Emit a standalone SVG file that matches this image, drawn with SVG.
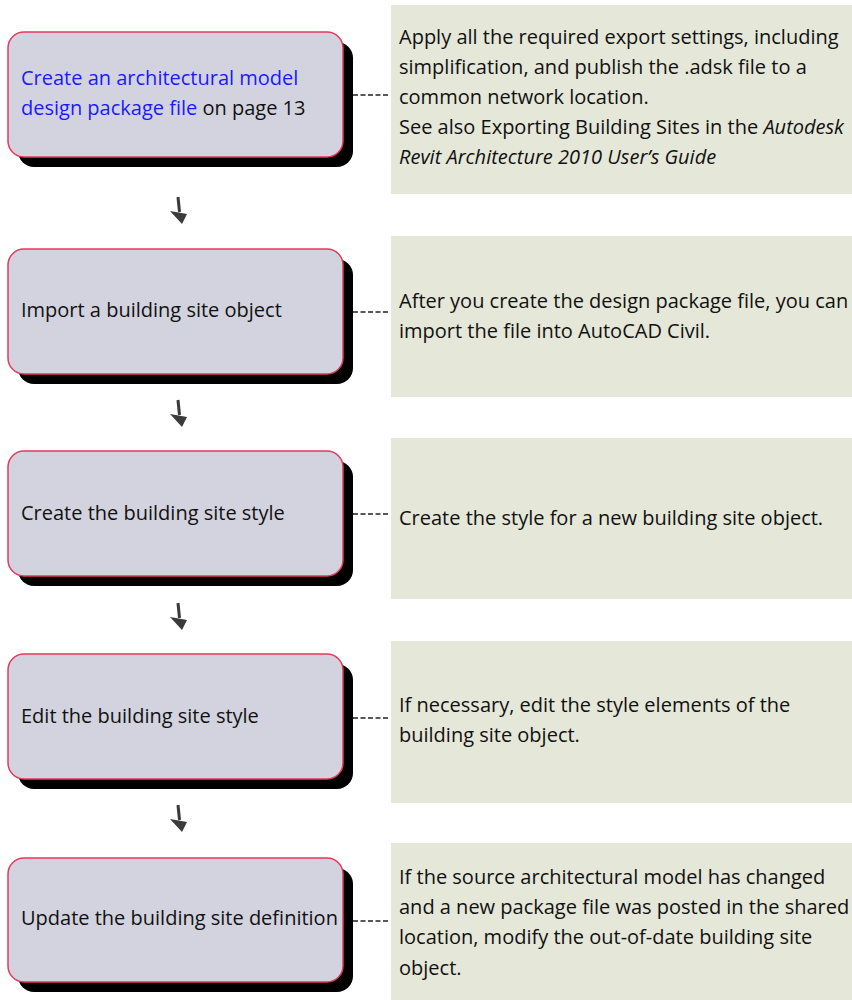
<svg xmlns="http://www.w3.org/2000/svg" width="852" height="1000" viewBox="0 0 852 1000">
<defs>
<style>
.note{fill:#e5e7d9;}
.shadow{fill:#000;}
.box{fill:#d3d3df;stroke:#e8375a;stroke-width:1.5;}
.t{font-family:"Open Sans","Noto Sans",sans-serif;font-size:20px;fill:#111;}
.link{fill:#1a1aff;}
.it{font-style:italic;}
.conn{stroke:#222;stroke-width:1.5;stroke-dasharray:5,2.5;fill:none;}
.ash{stroke:#3a3a3a;stroke-width:3;fill:none;}
.ahd{fill:#3a3a3a;}
</style>
<filter id="soft" x="-50%" y="-50%" width="200%" height="200%"><feGaussianBlur stdDeviation="0.5"/></filter>
<g id="arrowShape">
<path class="ash" d="M0,0 L1.5,15"/>
<polygon class="ahd" points="-8,14 9,17 4,27"/>
</g>
</defs>
<rect width="852" height="1000" fill="#fff"/>

<g id="notes">
<rect id="note1" class="note" x="391" y="5" width="470" height="189"/>
<rect id="note2" class="note" x="391" y="236" width="470" height="161"/>
<rect id="note3" class="note" x="391" y="438" width="470" height="161"/>
<rect id="note4" class="note" x="391" y="641" width="470" height="162"/>
<rect id="note5" class="note" x="391" y="843" width="470" height="170"/>
</g>

<g id="connectors">
<line class="conn" x1="353" y1="95" x2="389" y2="95"/>
<line class="conn" x1="353" y1="312" x2="389" y2="312"/>
<line class="conn" x1="353" y1="514" x2="389" y2="514"/>
<line class="conn" x1="353" y1="718" x2="389" y2="718"/>
<line class="conn" x1="353" y1="921" x2="389" y2="921"/>
<g filter="url(#soft)">
<use href="#arrowShape" x="178" y="197"/>
<use href="#arrowShape" x="178" y="400"/>
<use href="#arrowShape" x="178" y="603"/>
<use href="#arrowShape" x="178" y="805"/>
</g>
</g>

<g id="node1">
<rect class="shadow" x="18" y="42" width="335" height="125" rx="16"/>
<rect class="box" x="8" y="32" width="335" height="125" rx="16"/>
<text class="t" x="21" y="85"><tspan class="link">Create an architectural model</tspan></text>
<text class="t" x="21" y="115"><tspan class="link">design package file</tspan> on page 13</text>
</g>
<g id="node2">
<rect class="shadow" x="18" y="259" width="335" height="125" rx="16"/>
<rect class="box" x="8" y="249" width="335" height="125" rx="16"/>
<text class="t" x="21" y="317">Import a building site object</text>
</g>
<g id="node3">
<rect class="shadow" x="18" y="461" width="335" height="125" rx="16"/>
<rect class="box" x="8" y="451" width="335" height="125" rx="16"/>
<text class="t" x="21" y="520">Create the building site style</text>
</g>
<g id="node4">
<rect class="shadow" x="18" y="664" width="335" height="125" rx="16"/>
<rect class="box" x="8" y="654" width="335" height="125" rx="16"/>
<text class="t" x="21" y="723">Edit the building site style</text>
</g>
<g id="node5">
<rect class="shadow" x="18" y="868" width="335" height="124" rx="16"/>
<rect class="box" x="8" y="858" width="335" height="124" rx="16"/>
<text class="t" x="21" y="925">Update the building site definition</text>
</g>

<g id="note-texts">
<text class="t" x="399" y="44">Apply all the required export settings, including</text>
<text class="t" x="399" y="74">simplification, and publish the .adsk file to a</text>
<text class="t" x="399" y="104">common network location.</text>
<text class="t" x="399" y="134">See also Exporting Building Sites in the <tspan class="it">Autodesk</tspan></text>
<text class="t it" x="399" y="164">Revit Architecture 2010 User’s Guide</text>

<text class="t" x="399" y="308">After you create the design package file, you can</text>
<text class="t" x="399" y="338">import the file into AutoCAD Civil.</text>

<text class="t" x="399" y="525">Create the style for a new building site object.</text>

<text class="t" x="399" y="712">If necessary, edit the style elements of the</text>
<text class="t" x="399" y="742">building site object.</text>

<text class="t" x="399" y="884">If the source architectural model has changed</text>
<text class="t" x="399" y="914">and a new package file was posted in the shared</text>
<text class="t" x="399" y="944">location, modify the out-of-date building site</text>
<text class="t" x="399" y="975">object.</text>
</g>
</svg>
